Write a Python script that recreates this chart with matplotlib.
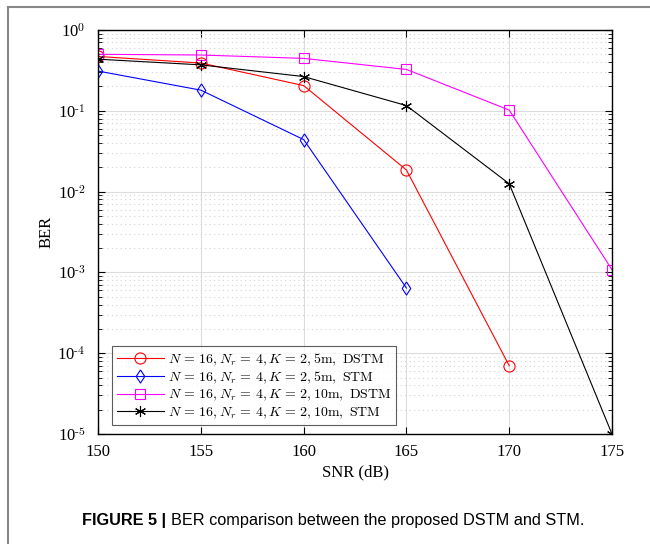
import numpy as np
import matplotlib.pyplot as plt
from matplotlib.lines import Line2D
from matplotlib.ticker import LogLocator, NullFormatter, FuncFormatter

plt.rcParams['font.family'] = ['Liberation Serif', 'DejaVu Serif']
plt.rcParams['mathtext.fontset'] = 'cm'

snr = [150, 155, 160, 165, 170, 175]

# BER curves
ber_dstm_5m = [0.47, 0.39, 0.205, 0.0185, 7.0e-5]
ber_stm_5m = [0.31, 0.18, 0.044, 6.4e-4]
ber_dstm_10m = [0.50, 0.49, 0.445, 0.325, 0.102, 1.08e-3]
ber_stm_10m = [0.435, 0.37, 0.265, 0.116, 0.0125, 1.0e-5]

labels = [
    r"$N\,=\,16, N_r\,=\,4, K\,=\,2, \mathrm{5m,\ DSTM}$",
    r"$N\,=\,16, N_r\,=\,4, K\,=\,2, \mathrm{5m,\ STM}$",
    r"$N\,=\,16, N_r\,=\,4, K\,=\,2, \mathrm{10m,\ DSTM}$",
    r"$N\,=\,16, N_r\,=\,4, K\,=\,2, \mathrm{10m,\ STM}$",
]

# MATLAB style tall diamond
tall_diamond = [(0, 1), (0.65, 0), (0, -1), (-0.65, 0), (0, 1)]

fig = plt.figure(figsize=(6.5, 5.44), dpi=100)
ax = fig.add_axes([0.151, 0.2022, 0.7905, 0.7427])

ax.semilogy(snr[:5], ber_dstm_5m, color='red', lw=0.8, marker='o', ms=8,
            mfc='none', mew=0.8, label=labels[0])
ax.semilogy(snr[:4], ber_stm_5m, color='blue', lw=0.8, marker=tall_diamond, ms=9.5,
            mfc='none', mew=0.8, label=labels[1])
ax.semilogy(snr, ber_dstm_10m, color='magenta', lw=0.8, marker='s', ms=7,
            mfc='none', mew=0.8, label=labels[2])
ax.semilogy(snr, ber_stm_10m, color='black', lw=0.8, marker=(6, 2, 0), ms=8,
            mew=0.8, label=labels[3])

ax.set_xlim(150, 175)
ax.set_ylim(1e-5, 1)
ax.set_xticks(snr)
ax.yaxis.set_major_formatter(FuncFormatter(
    lambda v, p: r'$\mathdefault{10^{\text{%d}}}$' % round(np.log10(v))))
ax.yaxis.set_minor_locator(LogLocator(base=10, subs=np.arange(2, 10), numticks=20))
ax.yaxis.set_minor_formatter(NullFormatter())

ax.grid(True, which='major', color='#dcdcdc', lw=0.8, ls='-')
ax.grid(True, which='minor', axis='y', color='#d4d4d4', lw=0.8, ls=(0, (1, 3)))
ax.set_axisbelow(True)

ax.tick_params(which='both', direction='in', top=True, right=True, labelsize=12)
ax.tick_params(axis='x', pad=7)
ax.tick_params(axis='y', pad=9)
ax.tick_params(which='major', length=5)
ax.tick_params(which='minor', length=3)
for s in ax.spines.values():
    s.set_linewidth(1.0)

ax.set_xlabel('SNR (dB)', fontsize=12, labelpad=3)
ax.set_ylabel('BER', fontsize=12, labelpad=2)

leg = ax.legend(loc='lower left', bbox_to_anchor=(0.013, 0.004), fontsize=10,
                frameon=True, fancybox=False, handlelength=3.4,
                borderpad=0.35, labelspacing=0.15, handletextpad=0.3)
leg.get_frame().set_edgecolor('#333333')
leg.get_frame().set_linewidth(0.8)

# page frame (top and left edges)
fig.add_artist(Line2D([8 / 650, 8 / 650], [0, 1 - 7 / 544], color='#888888',
                      lw=1.5, transform=fig.transFigure))
fig.add_artist(Line2D([8 / 650, 1], [1 - 7 / 544, 1 - 7 / 544], color='#888888',
                      lw=1.5, transform=fig.transFigure))

cap_y = 1 - 521 / 544
bold = fig.text(82 / 650, cap_y, 'FIGURE 5 |', fontsize=11.7, fontweight='bold',
                family='Liberation Sans', va='center', ha='left')
fig.canvas.draw()
bb = bold.get_window_extent()
fig.text((bb.x1 + 5) / 650, cap_y, 'BER comparison between the proposed DSTM and STM.',
         fontsize=11.7, family='Liberation Sans', va='center', ha='left')

fig.savefig('out.png', dpi=100)
